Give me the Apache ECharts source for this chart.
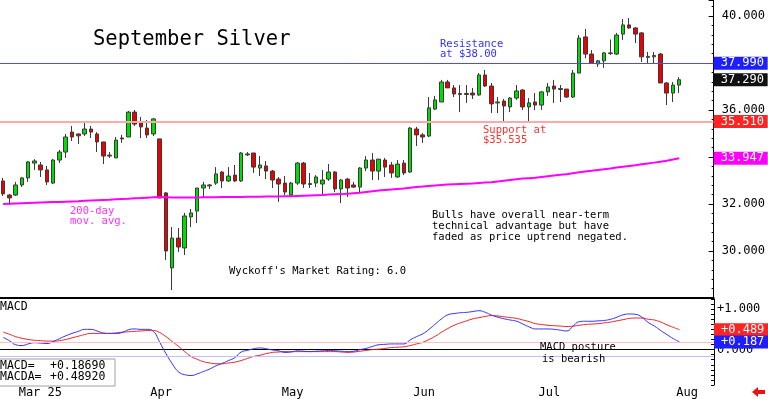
<!DOCTYPE html>
<html>
<head>
<meta charset="utf-8">
<script src="https://cdn.jsdelivr.net/npm/echarts@6/dist/echarts.min.js"></script>
<style>
html, body { margin: 0; padding: 0; background: #fff; }
#chart { width: 768px; height: 399px; }
</style>
</head>
<body>
<div id="chart"></div>
<script>
// daily bars, 27 Feb 2025 .. 4 Aug 2025
const opens = [
  32.98, 32.38, 32.38, 32.81, 33.11, 33.74, 33.66, 33.45, 32.89, 33.87,
  34.21, 35.06, 34.98, 34.98, 35.19, 34.98, 34.64, 34.04, 33.96, 34.81,
  34.85, 35.91, 35.45, 35.23, 34.98, 34.77, 32.47, 29.28, 30.55, 30.13,
  31.45, 31.70, 32.68, 32.77, 32.89, 33.36, 32.98, 33.23, 32.98, 34.09,
  34.17, 33.53, 33.62, 33.40, 33.06, 32.89, 32.38, 32.89, 33.74, 32.83,
  32.89, 32.85, 33.06, 33.36, 32.64, 33.06, 32.81, 32.72, 33.53, 33.87,
  33.40, 33.87, 33.66, 33.15, 33.74, 33.36, 35.19, 34.94, 34.89, 36.04,
  36.34, 37.19, 36.94, 36.66, 36.70, 36.72, 36.64, 37.49, 37.02, 36.30,
  36.38, 36.13, 36.51, 36.85, 36.13, 36.34, 36.21, 36.77, 37.02, 36.91,
  36.89, 36.55, 37.57, 39.11, 38.38, 37.96, 38.09, 38.40, 38.38, 39.23,
  39.62, 39.49, 39.28, 38.24, 38.26, 38.38, 37.15, 36.72, 37.06
];
const closes = [
  32.43, 32.26, 32.81, 33.11, 33.79, 33.83, 33.45, 32.94, 33.87, 34.21,
  34.85, 34.85, 34.90, 35.19, 35.06, 34.64, 34.04, 34.08, 34.72, 34.77,
  35.91, 35.40, 35.28, 34.94, 35.62, 32.26, 30.00, 30.55, 30.17, 31.49,
  31.62, 32.68, 32.81, 32.81, 33.28, 32.98, 33.19, 32.98, 34.17, 34.13,
  33.57, 33.66, 33.40, 33.02, 32.85, 32.51, 32.89, 33.74, 32.85, 32.87,
  33.15, 33.02, 33.36, 32.64, 33.02, 32.68, 32.72, 33.53, 33.87, 33.40,
  33.91, 33.57, 33.32, 33.70, 33.32, 35.23, 34.94, 34.85, 36.09, 36.43,
  37.19, 36.94, 36.68, 36.70, 36.66, 36.64, 37.49, 37.02, 36.26, 36.34,
  36.17, 36.51, 36.81, 36.13, 36.30, 36.21, 36.77, 36.98, 36.89, 36.87,
  36.55, 37.57, 39.06, 38.38, 38.00, 38.09, 38.43, 38.43, 39.19, 39.62,
  39.49, 39.23, 38.26, 38.28, 38.32, 37.15, 36.72, 37.06, 37.29
];
const lows = [
  32.34, 31.96, 32.34, 32.72, 32.94, 33.45, 33.15, 32.81, 32.85, 33.74,
  33.96, 34.68, 34.55, 34.89, 34.81, 34.21, 33.70, 33.96, 33.96, 34.60,
  34.85, 35.32, 34.81, 34.81, 34.89, 32.26, 29.62, 28.34, 29.96, 29.83,
  31.02, 31.19, 32.26, 32.64, 32.81, 32.68, 32.94, 32.94, 32.94, 34.04,
  33.32, 33.19, 33.06, 32.68, 32.09, 32.38, 32.34, 32.81, 32.68, 32.68,
  32.72, 32.34, 32.98, 32.51, 32.04, 32.30, 32.68, 32.51, 33.40, 33.02,
  33.02, 33.15, 33.11, 33.11, 33.23, 33.32, 34.47, 34.60, 34.85, 36.00,
  36.34, 36.94, 36.55, 35.91, 36.30, 36.47, 36.60, 36.98, 35.87, 35.87,
  35.45, 35.91, 36.43, 36.00, 35.45, 36.00, 36.00, 36.60, 36.30, 36.34,
  36.51, 36.51, 37.57, 38.20, 37.96, 37.83, 37.79, 38.34, 38.34, 38.98,
  39.45, 38.85, 38.04, 38.00, 38.00, 37.15, 36.21, 36.34, 36.72
];
const highs = [
  33.11, 32.43, 32.94, 33.15, 33.83, 33.91, 33.79, 33.62, 33.91, 34.30,
  34.98, 35.32, 35.00, 35.53, 35.32, 35.06, 34.64, 34.21, 34.85, 34.94,
  35.96, 36.00, 35.70, 35.57, 35.66, 34.77, 32.51, 31.02, 30.98, 31.62,
  31.79, 32.68, 32.94, 32.85, 33.57, 33.40, 33.57, 33.66, 34.21, 34.21,
  34.17, 34.04, 33.83, 33.45, 33.15, 33.19, 32.94, 33.79, 33.79, 33.32,
  33.23, 33.45, 33.70, 33.40, 33.06, 33.11, 32.94, 33.57, 34.04, 34.17,
  33.91, 33.96, 33.79, 33.87, 33.87, 35.28, 35.28, 35.02, 36.55, 36.60,
  37.28, 37.28, 37.06, 37.06, 37.06, 36.94, 37.57, 37.70, 37.15, 36.55,
  36.47, 36.55, 37.06, 36.89, 36.51, 36.72, 36.81, 37.15, 37.28, 37.06,
  36.89, 37.70, 39.19, 39.45, 38.55, 38.13, 38.47, 39.00, 39.28, 39.87,
  39.91, 39.53, 39.32, 38.47, 38.47, 38.43, 37.19, 37.19, 37.40
];
const ma200 = [
  32.00, 32.01, 32.02, 32.03, 32.04, 32.05, 32.06, 32.07, 32.08, 32.09,
  32.10, 32.11, 32.12, 32.14, 32.15, 32.16, 32.17, 32.18, 32.20, 32.21,
  32.22, 32.24, 32.25, 32.27, 32.29, 32.30, 32.29, 32.28, 32.28, 32.28,
  32.28, 32.28, 32.29, 32.29, 32.29, 32.30, 32.30, 32.30, 32.30, 32.31,
  32.31, 32.31, 32.32, 32.32, 32.32, 32.33, 32.33, 32.34, 32.35, 32.36,
  32.37, 32.38, 32.40, 32.41, 32.42, 32.44, 32.46, 32.48, 32.51, 32.54,
  32.57, 32.60, 32.62, 32.64, 32.66, 32.69, 32.72, 32.74, 32.77, 32.79,
  32.81, 32.83, 32.84, 32.85, 32.86, 32.87, 32.89, 32.91, 32.93, 32.96,
  32.99, 33.02, 33.05, 33.08, 33.10, 33.12, 33.15, 33.18, 33.21, 33.24,
  33.27, 33.31, 33.35, 33.38, 33.41, 33.45, 33.48, 33.51, 33.55, 33.58,
  33.62, 33.65, 33.69, 33.72, 33.76, 33.80, 33.84, 33.89, 33.95
];
const macdLine = [
  0.30, 0.22, 0.12, 0.10, 0.14, 0.17, 0.16, 0.15, 0.20, 0.27,
  0.34, 0.40, 0.45, 0.50, 0.50, 0.46, 0.41, 0.40, 0.40, 0.42,
  0.49, 0.51, 0.50, 0.50, 0.45, 0.18, -0.10, -0.35, -0.55, -0.62,
  -0.64, -0.60, -0.54, -0.48, -0.40, -0.34, -0.27, -0.20, -0.06, -0.02,
  0.02, 0.04, 0.02, -0.01, -0.03, -0.07, -0.06, -0.03, -0.04, -0.05,
  -0.04, -0.03, -0.02, -0.03, -0.04, -0.05, -0.04, 0.00, 0.03, 0.08,
  0.12, 0.13, 0.14, 0.14, 0.14, 0.24, 0.32, 0.39, 0.50, 0.63,
  0.76, 0.86, 0.89, 0.91, 0.92, 0.94, 0.96, 0.92, 0.85, 0.80,
  0.76, 0.73, 0.70, 0.63, 0.56, 0.51, 0.51, 0.51, 0.50, 0.48,
  0.46, 0.58, 0.69, 0.70, 0.70, 0.71, 0.72, 0.75, 0.80, 0.86,
  0.88, 0.87, 0.80, 0.67, 0.58, 0.47, 0.37, 0.27, 0.19
];
const macdAvg = [
  0.43, 0.38, 0.32, 0.28, 0.25, 0.23, 0.22, 0.21, 0.21, 0.22,
  0.25, 0.29, 0.33, 0.37, 0.40, 0.40, 0.40, 0.40, 0.41, 0.43,
  0.44, 0.45, 0.46, 0.47, 0.47, 0.42, 0.32, 0.20, 0.08, -0.05,
  -0.17, -0.24, -0.30, -0.33, -0.35, -0.35, -0.33, -0.31, -0.27, -0.22,
  -0.17, -0.14, -0.10, -0.07, -0.06, -0.05, -0.05, -0.05, -0.05, -0.05,
  -0.05, -0.05, -0.05, -0.05, -0.06, -0.07, -0.06, -0.04, -0.02, 0.00,
  0.01, 0.03, 0.05, 0.06, 0.07, 0.10, 0.14, 0.18, 0.25, 0.33,
  0.43, 0.52, 0.60, 0.66, 0.71, 0.76, 0.79, 0.82, 0.84, 0.83,
  0.81, 0.79, 0.77, 0.73, 0.69, 0.64, 0.62, 0.60, 0.59, 0.58,
  0.57, 0.58, 0.60, 0.62, 0.63, 0.64, 0.66, 0.68, 0.71, 0.74,
  0.77, 0.78, 0.78, 0.75, 0.73, 0.68, 0.61, 0.55, 0.49
];

const startDay = "2025-02-27";
const holidays = ["2025-04-18", "2025-05-26", "2025-06-19", "2025-07-04"];
const totalDays = 114; // axis runs a week past the last bar
const monthLabels = ["Mar 25", "Apr", "May", "Jun", "Jul", "Aug"];
const priceLabels = [30, 32, 36, 40];
const resistance = 37.99;
const support = 35.51;
const lastPrice = 37.29;
const lastMa = 33.947;
const macdNow = 0.1869;
const macdAvgNow = 0.4892;
const macdRedRef = 0.187;
const macdBlueRef = -0.17;

function tradingDays() {
  const out = [];
  const d = new Date(startDay + "T00:00:00Z");
  while (out.length < totalDays) {
    const wd = d.getUTCDay();
    const s = d.toISOString().slice(0, 10);
    if (wd !== 0 && wd !== 6 && holidays.indexOf(s) < 0) out.push(s);
    d.setUTCDate(d.getUTCDate() + 1);
  }
  return out;
}
const days = tradingDays();
const monthStart = {};
let m = 0;
days.forEach((s, i) => {
  if (i > 0 && s.slice(5, 7) !== days[i - 1].slice(5, 7)) {
    monthStart[i] = monthLabels[m++];
  }
});
const isMonthStart = (i) => monthStart[i] !== undefined;

const candles = opens.map((o, i) => [o, closes[i], lows[i], highs[i]]);
const mono = '"DejaVu Sans Mono", monospace';

function boxLabel(text, bg, size) {
  return {
    show: true,
    position: "end",
    distance: 0,
    formatter: text,
    color: "#fff",
    backgroundColor: bg,
    fontFamily: mono,
    fontSize: size,
    lineHeight: size,
    padding: [1, 2, 0, 7],
    width: 45,
  };
}
const noLine = { color: "rgba(0,0,0,0)", width: 0 };

function note(x, y, text, color, size) {
  return {
    type: "text",
    x: x,
    y: y,
    silent: true,
    z: 20,
    style: {
      text: text,
      fill: color,
      font: size + "px " + mono,
      verticalAlign: "middle",
      textVerticalAlign: "middle",
    },
  };
}

const chart = echarts.init(document.getElementById("chart"));
chart.setOption({
  animation: false,
  backgroundColor: "#fff",
  grid: [
    { left: 0, right: 54, top: 0, height: 298 },
    { left: 0, right: 54, top: 299, height: 87 },
  ],
  xAxis: [
    {
      type: "category",
      gridIndex: 0,
      data: days,
      axisLine: { lineStyle: { color: "#000", width: 2 } },
      axisTick: { show: false },
      axisLabel: { show: false },
      splitLine: { show: false },
    },
    {
      type: "category",
      gridIndex: 1,
      data: days,
      axisLine: { lineStyle: { color: "#000", width: 1 } },
      axisTick: {
        alignWithLabel: true,
        interval: (i) => isMonthStart(i),
        length: 13,
        lineStyle: { color: "#000" },
      },
      axisLabel: {
        interval: (i) => isMonthStart(i),
        formatter: (v, i) => monthStart[i] || "",
        align: "left",
        margin: 2,
        padding: [0, 0, 0, 3],
        color: "#000",
        fontFamily: mono,
        fontSize: 12,
      },
      splitLine: { show: false },
    },
  ],
  yAxis: [
    {
      type: "value",
      gridIndex: 0,
      position: "right",
      min: 28,
      max: 40.68,
      interval: 2,
      axisLine: { show: true, lineStyle: { color: "#000" } },
      axisTick: { show: true, inside: true, length: 5, lineStyle: { color: "#000" } },
      minorTick: { show: true, splitNumber: 5, length: 2, lineStyle: { color: "#000" } },
      splitLine: { show: false },
      axisLabel: {
        formatter: (v) => (priceLabels.indexOf(v) >= 0 ? v.toFixed(3) : ""),
        color: "#000",
        fontFamily: mono,
        fontSize: 12,
        margin: 8,
      },
    },
    {
      type: "value",
      gridIndex: 1,
      position: "right",
      min: -0.875,
      max: 1.25,
      interval: 0.125,
      axisLine: { show: true, lineStyle: { color: "#000" } },
      axisTick: { show: true, inside: true, length: 3, lineStyle: { color: "#000" } },
      splitLine: { show: false },
      axisLabel: {
        formatter: (v) =>
          Math.abs(v - 1) < 1e-6 ? "+1.000" : Math.abs(v) < 1e-6 ? "0.000" : "",
        color: "#000",
        fontFamily: mono,
        fontSize: 12,
        margin: 3,
      },
    },
  ],
  series: [
    {
      type: "candlestick",
      xAxisIndex: 0,
      yAxisIndex: 0,
      data: candles,
      barWidth: 4,
      itemStyle: {
        color: "#00dd00",
        color0: "#ee0000",
        borderColor: "#3a3a3a",
        borderColor0: "#3a3a3a",
        borderWidth: 1,
      },
    },
    {
      type: "line",
      xAxisIndex: 0,
      yAxisIndex: 0,
      data: ma200,
      symbol: "none",
      lineStyle: { color: "#ff00ff", width: 2 },
      markLine: {
        silent: true,
        symbol: ["none", "none"],
        data: [
          { yAxis: support, lineStyle: { color: "#ffaaaa", width: 2, opacity: 1, type: "solid" }, label: boxLabel(support.toFixed(3), "#ff2424", 12) },
          { yAxis: lastPrice, lineStyle: noLine, label: boxLabel(lastPrice.toFixed(3), "#111", 12) },
          { yAxis: lastMa, lineStyle: noLine, label: boxLabel(lastMa.toFixed(3), "#ff00ff", 12) },
        ],
      },
    },
    {
      // resistance level, own series so its line keeps its colour
      type: "line",
      xAxisIndex: 0,
      yAxisIndex: 0,
      data: [],
      symbol: "none",
      color: "#4a4aff",
      markLine: {
        silent: true,
        symbol: ["none", "none"],
        lineStyle: { color: "#4a4aff", width: 1, type: "solid", opacity: 1 },
        data: [
          { yAxis: resistance, label: boxLabel(resistance.toFixed(3), "#1e1eff", 12) },
        ],
      },
    },
    {
      type: "line",
      xAxisIndex: 1,
      yAxisIndex: 1,
      data: macdAvg,
      symbol: "none",
      smooth: true,
      lineStyle: { color: "#ee2020", width: 1 },
      markLine: {
        silent: true,
        symbol: ["none", "none"],
        data: [
          { yAxis: macdRedRef, lineStyle: { color: "#ffc0c0", width: 1, type: "solid" }, label: { show: false } },
          { yAxis: macdBlueRef, lineStyle: { color: "#c0c0ff", width: 1, type: "solid" }, label: { show: false } },
          { yAxis: macdAvgNow, lineStyle: noLine, label: boxLabel("+" + macdAvgNow.toFixed(3), "#ff2424", 12) },
          { yAxis: macdNow, lineStyle: noLine, label: boxLabel("+" + macdNow.toFixed(3), "#1e1eff", 12) },
        ],
      },
    },
    {
      type: "line",
      xAxisIndex: 1,
      yAxisIndex: 1,
      data: macdLine,
      symbol: "none",
      smooth: true,
      lineStyle: { color: "#3030ff", width: 1 },
    },
  ],
  graphic: [
    note(93, 40, "September Silver", "#000", 20.5),
    note(440, 44, "Resistance", "#3030ff", 10.5),
    note(440, 54, "at $38.00", "#3030ff", 10.5),
    note(483, 130.5, "Support at", "#ff3030", 10.5),
    note(483, 140.5, "$35.535", "#ff3030", 10.5),
    note(70, 211, "200-day", "#ff30ff", 10.5),
    note(70, 221.5, "mov. avg.", "#ff30ff", 10.5),
    note(432, 215, "Bulls have overall near-term", "#000", 10.5),
    note(432, 226, "technical advantage but have", "#000", 10.5),
    note(432, 237, "faded as price uptrend negated.", "#000", 10.5),
    note(229, 271, "Wyckoff's Market Rating: 6.0", "#000", 10.5),
    note(0, 307, "MACD", "#000", 11.5),
    note(540, 347.5, "MACD posture", "#000", 10.5),
    note(542, 359, "is bearish", "#000", 10.5),
    {
      type: "rect",
      silent: true,
      z: 19,
      shape: { x: -1, y: 359, width: 116, height: 27 },
      style: { fill: "#fff", stroke: "#a0a0a0", lineWidth: 1 },
    },
    note(0, 366, "MACD=", "#000", 11.5),
    note(50, 366, "+" + macdNow.toFixed(5), "#000", 11.5),
    note(0, 377.5, "MACDA=", "#000", 11.5),
    note(50, 377.5, "+" + macdAvgNow.toFixed(5), "#000", 11.5),
    {
      type: "polygon",
      silent: true,
      z: 20,
      shape: { points: [[752, 392], [758, 387], [758, 390], [765, 390], [765, 394], [758, 394], [758, 397]] },
      style: { fill: "#ee1010" },
    },
  ],
});
</script>
</body>
</html>
